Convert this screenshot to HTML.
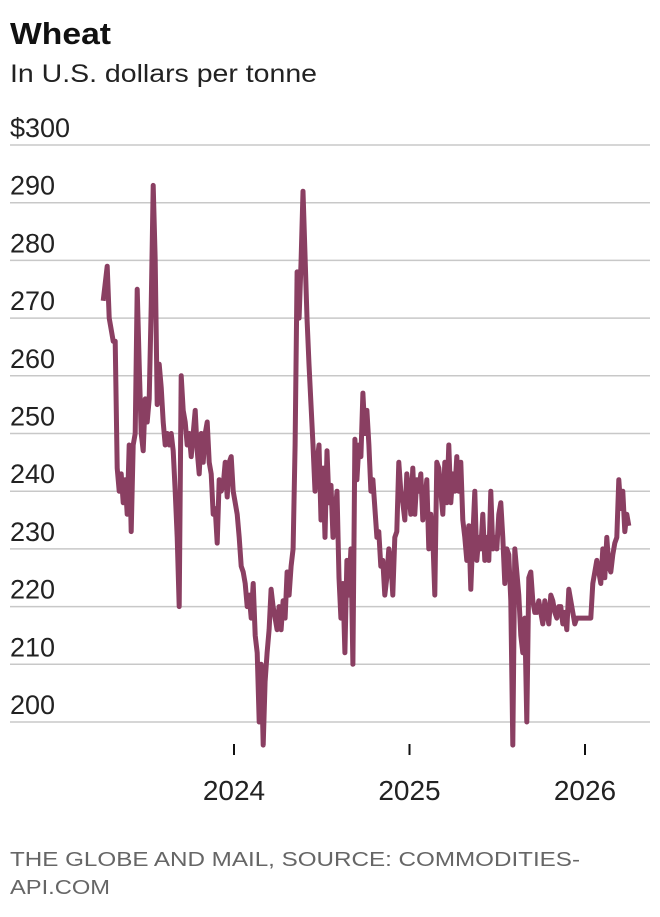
<!DOCTYPE html>
<html><head><meta charset="utf-8">
<style>
html,body{margin:0;padding:0;background:#fff;}
body{width:660px;height:912px;overflow:hidden;font-family:"Liberation Sans",sans-serif;}
</style></head>
<body>
<svg id="chart" width="660" height="912" xmlns="http://www.w3.org/2000/svg">
<text x="10" y="44" font-size="31" font-weight="bold" fill="#111" textLength="101" lengthAdjust="spacingAndGlyphs">Wheat</text>
<text x="10" y="82" font-size="25" fill="#222" textLength="307" lengthAdjust="spacingAndGlyphs">In U.S. dollars per tonne</text>
<g id="grid"></g>
<g id="xaxis"></g>
<path id="line" fill="none" stroke="#8a3f62" stroke-width="5" stroke-linejoin="round"/>
<text x="10" y="866" font-size="20" fill="#666" textLength="570" lengthAdjust="spacingAndGlyphs">THE GLOBE AND MAIL, SOURCE: COMMODITIES-</text>
<text x="10" y="894" font-size="20" fill="#666" textLength="100" lengthAdjust="spacingAndGlyphs">API.COM</text>
</svg>
<script>
const yTicks=[300,290,280,270,260,250,240,230,220,210,200];
const xTickYears=[2024,2025,2026];
const startDate="2023-04-04";
const stepDays=4.16;
const prices=[273,276,279,270,268,266,266,244,240,243,238,242,236,248,233,248,250,275,262,250,247,256,252,256,272,293,280,255,262,258,252,248,250,248,250,247,240,232,220,260,254,252,248,250,246,250,254,247,243,250,245,250,252,245,243,236,237,231,242,240,241,245,239,245,246,
240,238,236,232,227,226,224,220,222,218,224,215,212,200,210,196,207,212,216,223,220,218,216,220,216,221,218,226,222,227,230,248,278,270,280,292,281,270,262,255,248,240,245,248,235,244,232,247,238,241,232,236,240,225,218,224,212,228,222,230,210,249,242,248,246,257,250,254,248,240,242,237,232,233,227,228,222,225,230,228,222,232,233,245,240,238,235,243,240,236,244,236,242,240,243,235,238,242,230,236,232,222,245,244,240,236,245,238,248,238,243,240,246,240,245,235,232,228,234,223,232,240,228,232,230,236,228,232,228,240,230,232,230,236,238,232,224,230,229,221,196,230,226,222,215,212,218,200,225,226,221,219,219,221,219,217,221,219,217,222,221,219,218,220,220,217,219,216,223,221,219,217,218,218,218,218,218,218,218,218,224,226,228,226,224,230,225,232,227,226,229,231,232,242,237,240,233,236,234];
const NS="http://www.w3.org/2000/svg";
function yScale(v){return 145+(300-v)*5.77;}
function yearFrac(d){const y=d.getUTCFullYear();const s=Date.UTC(y,0,1),e=Date.UTC(y+1,0,1);return y+(d-s)/(e-s);}
function xScale(t){return 234+(t-2024)*175.5;}
const grid=document.getElementById('grid');
yTicks.forEach((v,i)=>{
  const y=yScale(v);
  const l=document.createElementNS(NS,'line');
  
  
  l.setAttribute('x1',10);l.setAttribute('x2',650);l.setAttribute('y1',y);l.setAttribute('y2',y);
  l.setAttribute('stroke','#c8c8c8');l.setAttribute('stroke-width','1.5');
  grid.appendChild(l);
  const t=document.createElementNS(NS,'text');
  
  
  t.setAttribute('x',10);t.setAttribute('y',y-8);t.setAttribute('font-size','27');t.setAttribute('fill','#222');
  t.textContent=(i===0?'$':'')+v;
  grid.appendChild(t);
});
const xa=document.getElementById('xaxis');
xTickYears.forEach(yr=>{
  const x=xScale(yr);
  const l=document.createElementNS(NS,'line');
  
  
  l.setAttribute('x1',x);l.setAttribute('x2',x);l.setAttribute('y1',744);l.setAttribute('y2',755);
  l.setAttribute('stroke','#111');l.setAttribute('stroke-width','2');
  xa.appendChild(l);
  const t=document.createElementNS(NS,'text');
  
  
  t.setAttribute('x',x);t.setAttribute('y',800);t.setAttribute('text-anchor','middle');t.setAttribute('font-size','28');t.setAttribute('fill','#222');
  t.textContent=yr;
  xa.appendChild(t);
});
const t0=new Date(startDate+"T00:00:00Z").getTime();
let d='';
prices.forEach((v,i)=>{
  const dt=new Date(t0+i*stepDays*86400000);
  const x=xScale(yearFrac(dt)),y=yScale(v);
  d+=(i?'L':'M')+x.toFixed(1)+','+y.toFixed(1);
});
document.getElementById('line').setAttribute('d',d);
</script>
</body></html>
